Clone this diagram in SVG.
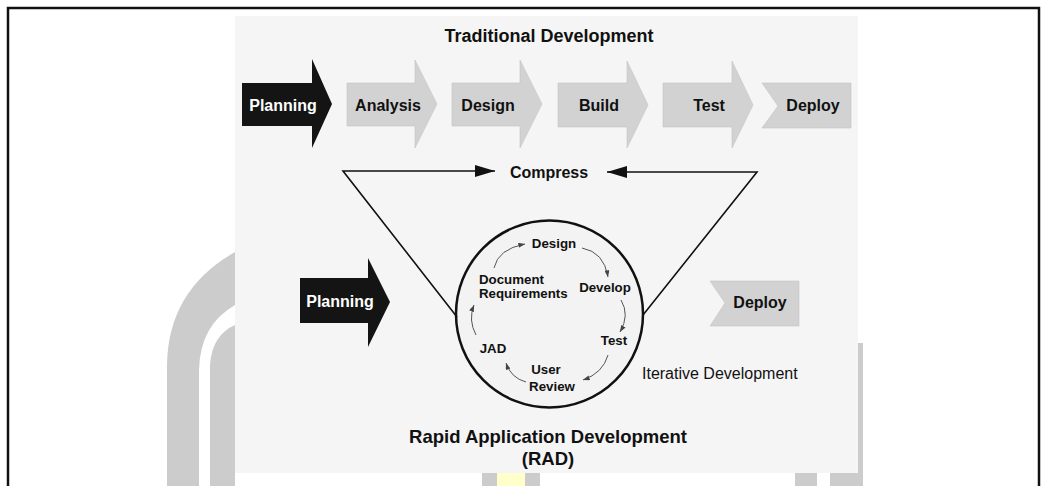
<svg xmlns="http://www.w3.org/2000/svg" width="1045" height="486" viewBox="0 0 1045 486">
<defs>
<style>
.b{font-family:"Liberation Sans",Arial,sans-serif;font-weight:bold;fill:#111}
.w{font-family:"Liberation Sans",Arial,sans-serif;font-weight:bold;fill:#fff}
.r{font-family:"Liberation Sans",Arial,sans-serif;fill:#111}
.g{fill:#d2d2d2;stroke:#c4c4c4;stroke-width:0.6}
.k{fill:#141414}
.ln{fill:none;stroke:#111;stroke-width:1.6}
.cy{fill:none;stroke:#555;stroke-width:1}
.wm{fill:#cccccc}
</style>
<marker id="big" viewBox="0 0 20 12" refX="20" refY="6" markerWidth="20" markerHeight="12" markerUnits="userSpaceOnUse" orient="auto">
<path d="M0,0 L20,6 L0,12 Z" fill="#111"/>
</marker>
<marker id="sm" viewBox="0 0 8 6" refX="8" refY="3" markerWidth="7" markerHeight="5" markerUnits="userSpaceOnUse" orient="auto">
<path d="M0,0 L8,3 L0,6 Z" fill="#444"/>
</marker>
</defs>
<rect x="0" y="0" width="1045" height="486" fill="#fff"/>
<g id="watermark">
<path class="wm" d="M167,486 L167,365 Q168,290 235,252 L235,305 Q200,325 199,370 L199,486 Z"/>
<path class="wm" d="M210,486 L210,365 Q212,335 235,325 L235,486 Z"/>
<rect class="wm" x="482" y="470" width="58" height="16"/>
<rect x="497" y="470" width="28" height="16" fill="#ffffcc"/>
<rect class="wm" x="795" y="470" width="22" height="16"/>
<rect class="wm" x="830" y="470" width="33" height="16"/>
<rect class="wm" x="855" y="343" width="8" height="143"/>
</g>
<rect x="8" y="8" width="1031" height="500" fill="none" stroke="#111" stroke-width="2.5"/>
<rect x="235" y="16" width="623" height="457" fill="#f5f5f5"/>
<text class="b" x="549" y="42" font-size="18" text-anchor="middle">Traditional Development</text>
<g id="t-planning">
<path class="k" d="M242,83 L312,83 L312,59 L332,104 L312,148 L312,126 L242,126 Z"/>
<text class="w" x="283" y="111" font-size="16" text-anchor="middle">Planning</text>
</g>
<g id="t-analysis">
<path class="g" d="M347,83 L415,83 L415,60 L437,104 L415,148 L415,126 L347,126 Z"/>
<text class="b" x="388" y="111" font-size="16" text-anchor="middle">Analysis</text>
</g>
<g id="t-design">
<path class="g" d="M452,83 L520,83 L520,60 L542,104 L520,148 L520,126 L452,126 Z"/>
<text class="b" x="488" y="111" font-size="16" text-anchor="middle">Design</text>
</g>
<g id="t-build">
<path class="g" d="M558,83 L627,83 L627,61 L648,105 L627,148 L627,127 L558,127 Z"/>
<text class="b" x="599" y="111" font-size="16" text-anchor="middle">Build</text>
</g>
<g id="t-test">
<path class="g" d="M663,83 L732,83 L732,61 L753,105 L732,148 L732,127 L663,127 Z"/>
<text class="b" x="709" y="111" font-size="16" text-anchor="middle">Test</text>
</g>
<g id="t-deploy">
<path class="g" d="M762,83 L851,83 L851,128 L762,128 L778,106 Z"/>
<text class="b" x="813" y="111" font-size="16" text-anchor="middle">Deploy</text>
</g>
<g id="compress">
<text class="b" x="549" y="178" font-size="16" text-anchor="middle">Compress</text>
</g>
<g id="rad-circle">
<circle cx="549.5" cy="314" r="93.5" fill="#f3f3f3" stroke="#111" stroke-width="2.5"/>
<text class="b" x="554" y="248" font-size="13.3" text-anchor="middle">Design</text>
<text class="b" x="479" y="284" font-size="13.3">Document</text>
<text class="b" x="479" y="298" font-size="13.3">Requirements</text>
<text class="b" x="605" y="292" font-size="13.3" text-anchor="middle">Develop</text>
<text class="b" x="614" y="345" font-size="13.3" text-anchor="middle">Test</text>
<text class="b" x="493" y="353" font-size="13.3" text-anchor="middle">JAD</text>
<text class="b" x="546" y="374" font-size="13.3" text-anchor="middle">User</text>
<text class="b" x="552" y="391" font-size="13.3" text-anchor="middle">Review</text>
</g>
<g id="r-planning">
<path class="k" d="M300,278 L368,278 L368,258 L390,302 L368,347 L368,323 L300,323 Z"/>
<text class="w" x="340" y="307" font-size="16" text-anchor="middle">Planning</text>
</g>
<g id="r-deploy">
<path class="g" d="M710,281 L799,281 L799,326 L710,326 L725,303 Z"/>
<text class="b" x="760" y="308" font-size="16" text-anchor="middle">Deploy</text>
</g>
<text class="r" x="642" y="379" font-size="16">Iterative Development</text>
<text class="b" x="548" y="443" font-size="18.5" text-anchor="middle">Rapid Application Development</text>
<text class="b" x="548" y="465" font-size="18.5" text-anchor="middle">(RAD)</text>
<g id="connectors">
<path class="ln" d="M457,317 L343,171 L495,171" marker-end="url(#big)"/>
<path class="ln" d="M643,315 L757,172 L607,172" marker-end="url(#big)"/>
<path class="cy" d="M494,268 Q498,249 525,244" marker-end="url(#sm)"/>
<path class="cy" d="M582,248 Q604,252 608,277" marker-end="url(#sm)"/>
<path class="cy" d="M621,300 Q630,315 620,332" marker-end="url(#sm)"/>
<path class="cy" d="M608,355 Q603,373 583,380" marker-end="url(#sm)"/>
<path class="cy" d="M526,382 Q511,378 506,363" marker-end="url(#sm)"/>
<path class="cy" d="M476,335 Q468,320 474,305" marker-end="url(#sm)"/>
</g>
</svg>
